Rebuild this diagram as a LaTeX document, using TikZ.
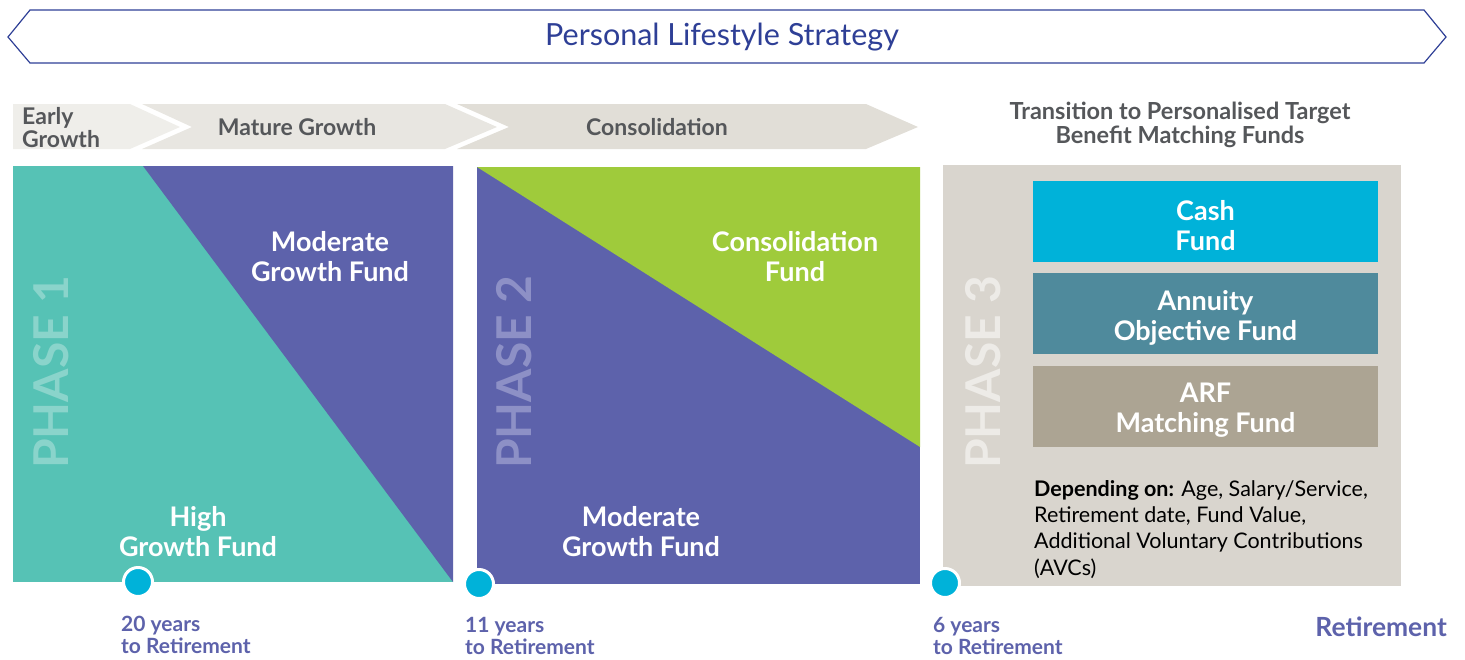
\documentclass[tikz,border=0pt]{standalone}
\usepackage{fontspec}
\setmainfont{Lato}
\usepackage{tikz}
\usetikzlibrary{positioning}

\definecolor{bannerblue}{HTML}{2E3F96}
\definecolor{tealf}{HTML}{56C2B5}
\definecolor{teall}{HTML}{8AD4CB}
\definecolor{purpf}{HTML}{5D62AB}
\definecolor{purpl}{HTML}{8D90C6}
\definecolor{limef}{HTML}{9FCB3B}
\definecolor{stonef}{HTML}{D9D5CE}
\definecolor{stonel}{HTML}{EDEBE7}
\definecolor{cyanf}{HTML}{00B2D9}
\definecolor{petrolf}{HTML}{4F8A9C}
\definecolor{taupef}{HTML}{ACA493}
\definecolor{greyt}{HTML}{55575A}
\definecolor{chevA}{HTML}{EFEEEA}
\definecolor{chevB}{HTML}{E8E6E1}
\definecolor{chevC}{HTML}{E1DED7}

\begin{document}
\begin{tikzpicture}[x=1pt,y=-1pt,
  inner sep=0pt,
  banner/.style={font=\fontsize{30.5}{34}\selectfont, text=bannerblue},
  stagen/.style={font=\bfseries\fontsize{23}{23}\selectfont, text=greyt, align=center},
  fundn/.style={font=\bfseries\fontsize{27}{30}\selectfont, text=white, align=center},
  fundbox/.style={minimum width=345pt, minimum height=81pt},
  fundlbl/.style={label={[fundn, yshift=-4pt]center:#1}},
  phasen/.style={font=\bfseries\fontsize{48}{48}\selectfont, rotate=90},
  dotn/.style={circle, fill=cyanf, draw=white, line width=3pt, minimum size=29pt},
  yearn/.style={font=\bfseries\fontsize{21}{22}\selectfont, text=purpf, align=left, anchor=north west}]
  \useasboundingbox (0,0) rectangle (1465,659);

  \draw[bannerblue, line width=1.2pt] (8,37) -- (30,10) -- (1424,10) -- (1446,37) -- (1424,63) -- (30,63) -- cycle;
  \node[banner] (title) at (722,37) {Personal Lifestyle Strategy};

  \fill[chevA] (13,104) -- (130,104) -- (180,127) -- (130,149) -- (13,149) -- cycle;
  \fill[chevB] (142,104) -- (445,104) -- (497,127) -- (445,149) -- (142,149) -- (192,127) -- cycle;
  \fill[chevC] (457,104) -- (866,104) -- (918,127) -- (866,149) -- (457,149) -- (509,127) -- cycle;
  \node[stagen, align=left, anchor=west] (early) at (22,128) {Early\\Growth};
  \node[stagen] (mature) at (297,127) {Mature Growth};
  \node[stagen] (consol) at (657,127) {Consolidation};
  \node[stagen, font=\bfseries\fontsize{23.5}{24}\selectfont] (trans) at (1180,125) {Transition to Personalised Target\\Benefit Matching Funds};

  \fill[tealf] (13,166) rectangle (453,582);
  \fill[purpf] (143,166) -- (453,166) -- (453,582) -- cycle;
  \node[phasen, text=teall] (ph1) at (51,372) {PHASE 1};
  \node[fundn] (mod1) at (330,257) {Moderate\\Growth Fund};
  \node[fundn] (high) at (198,532) {High\\Growth Fund};

  \fill[purpf] (477,167) rectangle (920,584);
  \fill[limef] (477,167) -- (920,167) -- (920,447) -- cycle;
  \node[phasen, text=purpl] (ph2) at (514,372) {PHASE 2};
  \node[fundn] (cons) at (795,257) {Consolidation\\Fund};
  \node[fundn] (mod2) at (641,532) {Moderate\\Growth Fund};

  \fill[stonef] (943,165) rectangle (1401,586);
  \node[phasen, text=stonel] (ph3) at (983,372) {PHASE 3};
  \node[fundbox, fill=cyanf, fundlbl={Cash\\Fund}] (cash) at (1205.5,221.5) {};
  \node[fundbox, fill=petrolf, below=11pt of cash, fundlbl={Annuity\\Objective Fund}] (annuity) {};
  \node[fundbox, fill=taupef, below=11pt of annuity, fundlbl={ARF\\Matching Fund}] (arf) {};
  \node[font=\fontsize{21.5}{26.3}\selectfont, align=left, anchor=north west] (dep) at (1034,480)
    {\textbf{Depending on:} Age, Salary/Service,\\Retirement date, Fund Value,\\Additional Voluntary Contributions\\(AVCs)};

  \node[dotn] (d1) at (138,582) {};
  \node[dotn] (d2) at (479,584) {};
  \node[dotn] (d3) at (945,583) {};
  \node[yearn] (y1) at (121,616) {20 years\\to Retirement};
  \node[yearn] (y2) at (465,617) {11 years\\to Retirement};
  \node[yearn] (y3) at (933,617) {6 years\\to Retirement};
  \node[font=\bfseries\fontsize{26.4}{28}\selectfont, text=purpf, anchor=east] (ret) at (1447,627) {Retirement};
\end{tikzpicture}
\end{document}
